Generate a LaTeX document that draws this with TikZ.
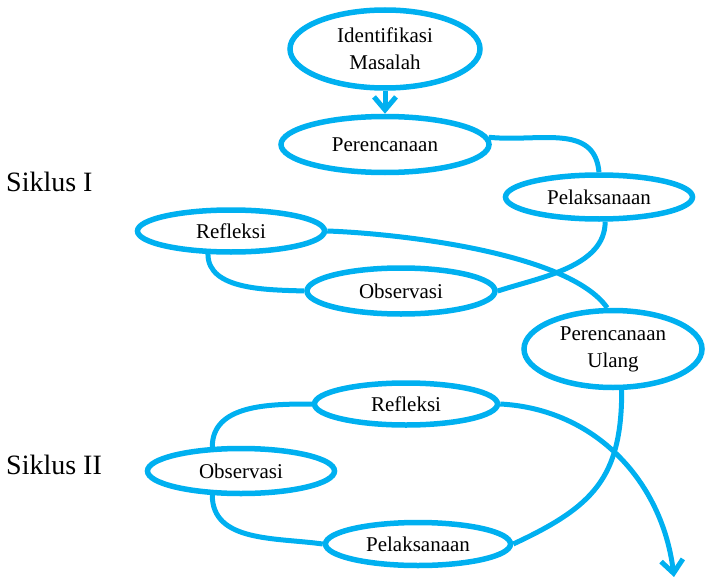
\documentclass[tikz,border=0pt]{standalone}
\usepackage{fontspec}
\setmainfont{Liberation Serif}
\usetikzlibrary{positioning, arrows.meta, shapes.geometric, backgrounds}
\definecolor{cycblue}{RGB}{0, 176, 240}

\begin{document}
\begin{tikzpicture}[
  x=1pt, y=1pt,
  >={Straight Barb[length=13pt, width=22pt]},
  % --- Styles ---
  stage/.style={
    ellipse, draw=cycblue, fill=white, line width=5.5pt,
    align=center, inner sep=1pt, font=\fontsize{21}{27}\selectfont},
  siklus/.style={anchor=west, inner sep=0pt, font=\fontsize{28}{34}\selectfont},
  link/.style={draw=cycblue, line width=5pt},
]
\useasboundingbox (0,0) rectangle (706,-583);
% === NODES ===
% Siklus I
\node[stage, minimum width=190pt, minimum height=78pt] (idm) at (385,-49)
  {Identifikasi\\Masalah};
\node[stage, minimum width=208pt, minimum height=56pt, below=23pt of idm] (per1)
  {Perencanaan};
\node[stage, minimum width=187pt, minimum height=44pt] (pel1) at (599,-197) {Pelaksanaan};
\node[stage, minimum width=188pt, minimum height=46pt] (obs1) at (401,-291) {Observasi};
\node[stage, minimum width=187pt, minimum height=42pt] (ref1) at (231,-231) {Refleksi};
% Siklus II
\node[stage, minimum width=178pt, minimum height=77pt] (pu) at (613,-349)
  {Perencanaan\\Ulang};
\node[stage, minimum width=185pt, minimum height=43pt] (pel2) at (418,-544) {Pelaksanaan};
\node[stage, minimum width=187pt, minimum height=45pt] (obs2) at (241,-471) {Observasi};
\node[stage, minimum width=183pt, minimum height=42pt] (ref2) at (406,-404) {Refleksi};
\coordinate (tip) at (674,-577);
% Labels
\node[siklus] (sik1) at (6,-182) {Siklus I};
\node[siklus] (sik2) at (6,-465) {Siklus II};
% === ARROWS ===
\draw[link, ->] (idm.south) -- (per1.north);
\begin{scope}[on background layer]
% Cycle I
\draw[link] (per1.4) to[out=-6, in=95, looseness=1.1] (pel1.north);
\draw[link] (pel1.-76) to[out=-90, in=18, looseness=0.9] (obs1.east);
\draw[link] (ref1.-135) to[out=-90, in=178, looseness=0.9] (obs1.west);
% Re-planning
\draw[link] (ref1.east) to[out=-2, in=125, looseness=0.6] (pu.98);
% Cycle II
\draw[link] (pu.-78) to[out=-90, in=25, looseness=1.2] (pel2.east);
\draw[link] (ref2.west) to[out=180, in=90] (obs2.140);
\draw[link] (obs2.-140) to[out=-90, in=172] (pel2.west);
\draw[link, ->] (ref2.east) to[out=-3, in=97] (tip);
\end{scope}
\end{tikzpicture}
\end{document}
